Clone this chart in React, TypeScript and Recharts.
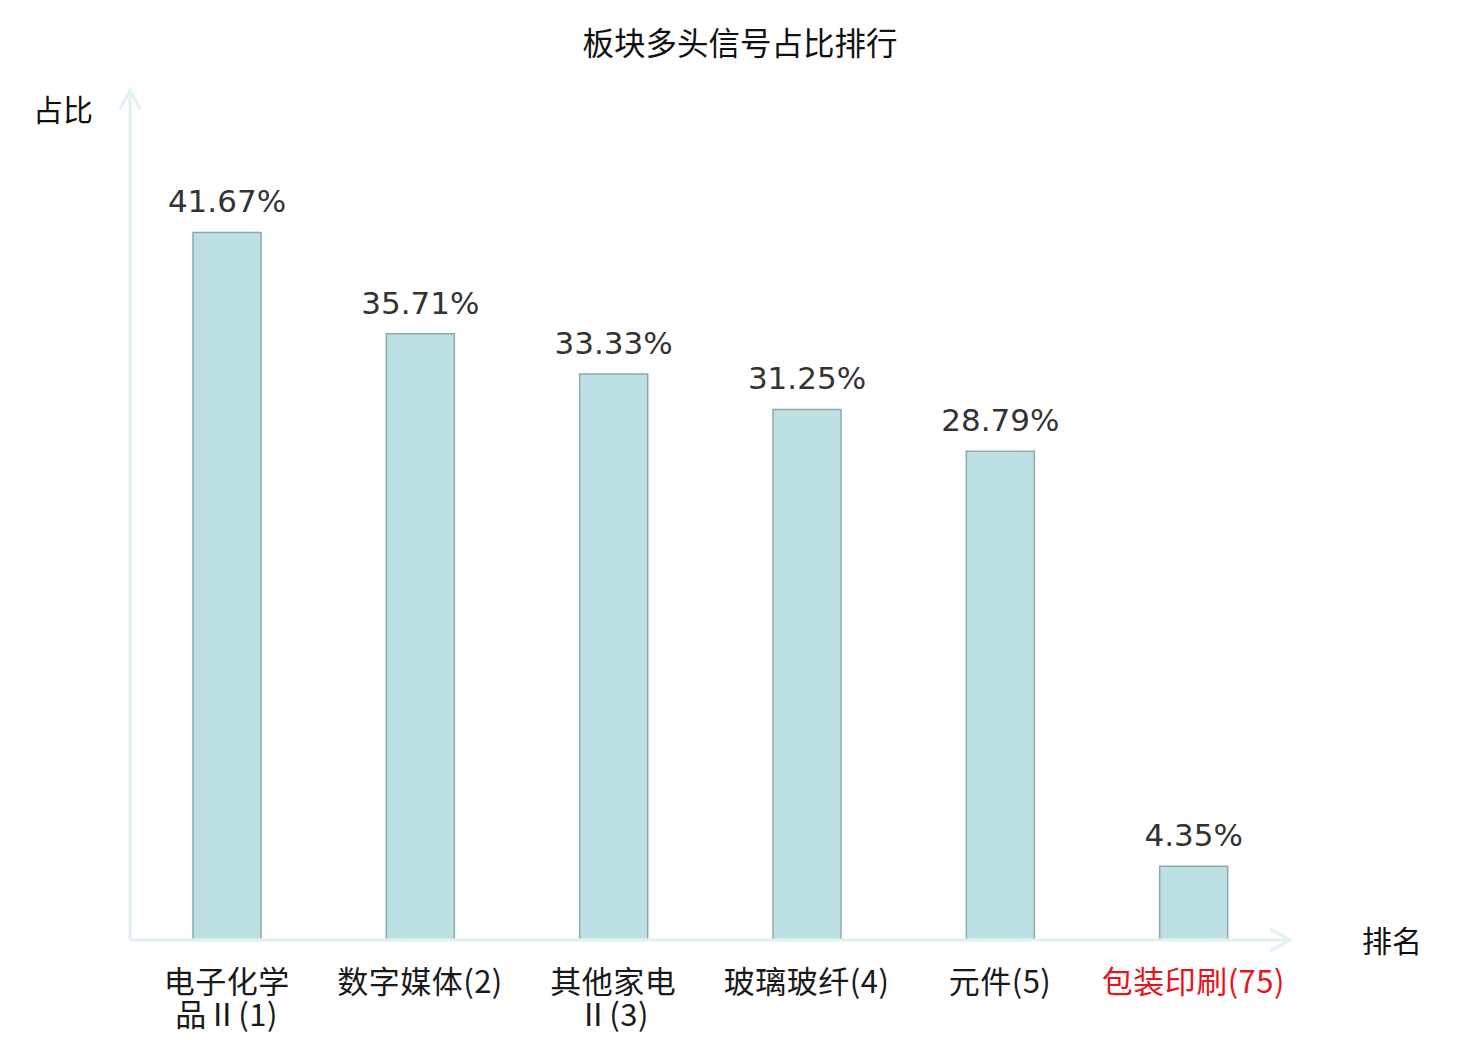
import { BarChart, Bar, XAxis, YAxis, LabelList } from 'recharts';

const chartTitle = '板块多头信号占比排行';
const yAxisName = '占比';
const xAxisName = '排名';

const sectors = ['电子化学品Ⅱ(1)', '数字媒体(2)', '其他家电Ⅱ(3)', '玻璃玻纤(4)', '元件(5)', '包装印刷(75)'];
const shares = [41.67, 35.71, 33.33, 31.25, 28.79, 4.35];
const highlighted = ['包装印刷(75)'];

const yDomain = [0, 50];

const data = sectors.map((name, i) => ({ name, value: shares[i] }));

const AXIS = '#dff2f0';
const CJK = '"Noto Sans CJK SC", "DejaVu Sans", sans-serif';

// rough width in em: CJK / roman numerals are full width
function emWidth(ch: string) {
	return /[\u2160-\u217f\u3000-\u9fff]/.test(ch) ? 1 : 0.5;
}

function wrapLabel(label: string) {
	const chars = Array.from(label);
	const total = chars.reduce((s, c) => s + emWidth(c), 0);
	if (total <= 6) return [label];
	const lines: string[] = [];
	let cur = '';
	let w = 0;
	for (const c of chars) {
		if (w + emWidth(c) > 4 && cur) {
			lines.push(cur);
			cur = '';
			w = 0;
		}
		cur += c;
		w += emWidth(c);
	}
	if (cur) lines.push(cur);
	return lines;
}

function SectorTick(props: any) {
	const { x, y, payload } = props;
	const lines = wrapLabel(payload.value);
	const red = highlighted.includes(payload.value);
	return (
		<text x={x} y={y} textAnchor="middle" fontSize={31} fontFamily={CJK} fill={red ? '#e8141b' : '#1a1a1a'} letterSpacing={0.5}>
			{lines.map((l, i) => (
				<tspan key={i} x={x} dy={i === 0 ? 53 : 33}>
					{l}
				</tspan>
			))}
		</text>
	);
}

function ValueLabel(props: any) {
	const { x, y, width, value } = props;
	return (
		<text x={x + width / 2} y={y - 20} textAnchor="middle" fontSize={31} fontFamily='"DejaVu Sans", sans-serif' fill="#333">
			{value.toFixed(2)}%
		</text>
	);
}

function XAxisEnd(props: any) {
	const { viewBox } = props;
	const ex = viewBox.x + viewBox.width;
	const ey = viewBox.y;
	return (
		<g>
			<polyline points={`${ex - 20},${ey - 11} ${ex},${ey} ${ex - 20},${ey + 11}`} fill="none" stroke={AXIS} strokeWidth={3} />
			<text x={ex + 102} y={ey + 12} textAnchor="middle" fontSize={30} fontFamily={CJK} fill="#111">
				{xAxisName}
			</text>
		</g>
	);
}

function YAxisEnd(props: any) {
	const { viewBox } = props;
	const ex = viewBox.x + viewBox.width;
	const ey = viewBox.y - 1;
	return (
		<g>
			<polyline points={`${ex - 10},${ey + 19} ${ex},${ey} ${ex + 10},${ey + 19}`} fill="none" stroke={AXIS} strokeWidth={3} />
			<text x={ex - 67} y={ey + 31} textAnchor="middle" fontSize={30} fontFamily={CJK} fill="#111">
				{yAxisName}
			</text>
		</g>
	);
}

export default function App() {
	return (
		<div style={{ position: 'absolute', left: 0, top: 0, width: 1480, height: 1040, background: '#fff' }}>
			<div
				style={{
					position: 'absolute',
					top: 21,
					width: 1480,
					textAlign: 'center',
					fontSize: 31.5,
					fontFamily: CJK,
					color: '#111',
					lineHeight: '40px',
				}}
			>
				{chartTitle}
			</div>
			<BarChart width={1480} height={1040} data={data} margin={{ top: 91, right: 190, bottom: 99, left: 0 }} barCategoryGap={0}>
				<XAxis
					dataKey="name"
					height={1}
					axisLine={{ stroke: AXIS, strokeWidth: 3 }}
					tickLine={false}
					tickSize={0}
					tickMargin={0}
					interval={0}
					tick={<SectorTick />}
					label={<XAxisEnd />}
				/>
				<YAxis
					domain={yDomain}
					width={130}
					axisLine={{ stroke: AXIS, strokeWidth: 3 }}
					tickLine={false}
					tick={false}
					label={<YAxisEnd />}
				/>
				<Bar dataKey="value" barSize={68} fill="#bce0e3" stroke="#8ea9aa" strokeWidth={1.5} isAnimationActive={false}>
					<LabelList dataKey="value" content={<ValueLabel />} />
				</Bar>
			</BarChart>
		</div>
	);
}
